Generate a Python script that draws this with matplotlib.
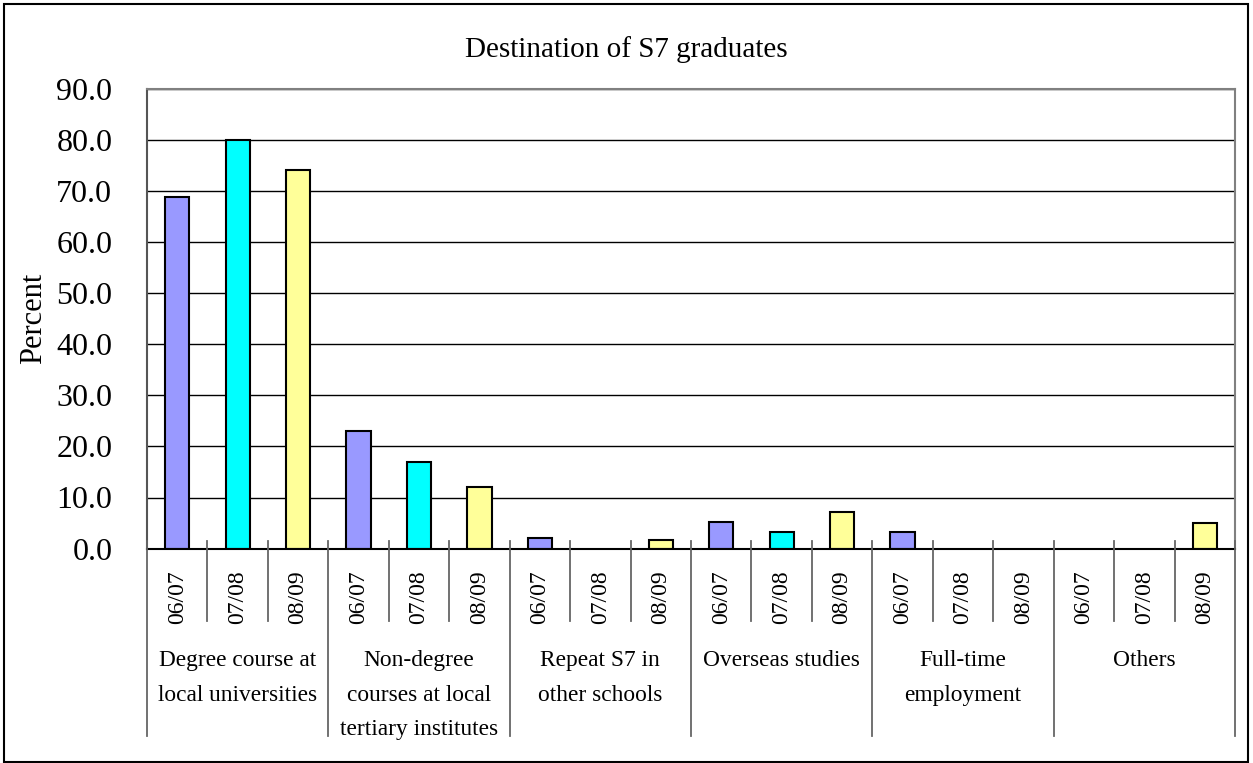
"""
Destination of S7 graduates - grouped bar chart
"""
import numpy as np
import matplotlib
matplotlib.use('Agg')
from matplotlib import pyplot as plt
from matplotlib.patches import Rectangle
from matplotlib.lines import Line2D

plt.rcParams['font.family'] = ['Liberation Serif', 'DejaVu Serif']

## Data
categories = ['Degree course at\nlocal universities',
              'Non-degree\ncourses at local\ntertiary institutes',
              'Repeat S7 in\nother schools',
              'Overseas studies',
              'Full-time\nemployment',
              'Others']
years = ['06/07', '07/08', '08/09']
y0607 = [68.9, 23.1, 2.0, 5.2, 3.2, 0.0]
y0708 = [79.9, 16.9, 0.0, 3.2, 0.0, 0.0]
y0809 = [74.0, 12.1, 1.6, 7.1, 0.0, 5.1]
yticks = [0, 10, 20, 30, 40, 50, 60, 70, 80, 90]

series = [y0607, y0708, y0809]
colors = ['#9999ff', '#00ffff', '#ffff99']

W, H = 1253, 763
fig = plt.figure(figsize=(W / 100, H / 100), dpi=100)

# axes box in pixels
x0, x1 = 147, 1235
ytop, ybot = 88.7, 548.6
ax = fig.add_axes([x0 / W, (H - ybot) / H, (x1 - x0) / W, (ybot - ytop) / H])
axh = ybot - ytop

n_cat = len(categories)
n_yr = len(years)
for j, vals in enumerate(series):
    vals = np.array(vals)
    xpos = np.arange(n_cat) * n_yr + j + 0.5
    keep = vals > 0  # empty categories have no bar
    ax.bar(xpos[keep], vals[keep], width=0.4, color=colors[j],
           edgecolor='black', linewidth=1.5, zorder=3)

ax.set_xlim(0, n_cat * n_yr)
ax.set_ylim(0, 90)
ax.set_yticks(yticks)
ax.set_yticklabels(['%.1f' % v for v in yticks], fontsize=23)
ax.tick_params(axis='y', length=0, pad=25)
ax.set_xticks([])
ax.grid(axis='y', color='black', linewidth=1.0, zorder=0)
ax.set_axisbelow(True)
for side in ['top', 'right']:
    ax.spines[side].set_color('#808080')
    ax.spines[side].set_linewidth(1.5)
ax.spines['left'].set_color('#555555')
ax.spines['left'].set_linewidth(1.5)
ax.spines['bottom'].set_color('black')
ax.spines['bottom'].set_linewidth(1.5)
ax.spines['bottom'].set_zorder(4)

ax.set_ylabel('Percent', fontsize=22, labelpad=6)

# Category axis decoration: year separators and group separators
trans = ax.get_xaxis_transform()
up = 8 / axh
year_low = (ybot - 621) / axh
group_low = (ybot - 736) / axh
for k in range(n_cat * n_yr + 1):
    low = group_low if k % n_yr == 0 else year_low
    ax.add_line(Line2D([k, k], [up, low], transform=trans, color='#666666',
                       linewidth=1.3, clip_on=False, zorder=5))

# Year labels
year_y = (ybot - 597) / axh
for i in range(n_cat):
    for j, yr in enumerate(years):
        ax.text(i * n_yr + j + 0.5, year_y, yr, transform=trans, rotation=90,
                ha='center', va='center', fontsize=17)

# Group labels
grp_y = (ybot - 650) / axh
for i, cat in enumerate(categories):
    ax.text(i * n_yr + 1.5, grp_y, cat, transform=trans, ha='center',
            va='top', fontsize=16.8, linespacing=1.85)

fig.text(0.5, 1 - 56.7 / H, 'Destination of S7 graduates', ha='center',
         va='baseline', fontsize=21)

# Outer chart border
fig.patches.append(Rectangle((3.5 / W, (H - 762) / H), (1248 - 3.5) / W,
                             (762 - 4.3) / H, transform=fig.transFigure,
                             fill=False, edgecolor='black', linewidth=1.5))

fig.savefig('out.png', dpi=100)
